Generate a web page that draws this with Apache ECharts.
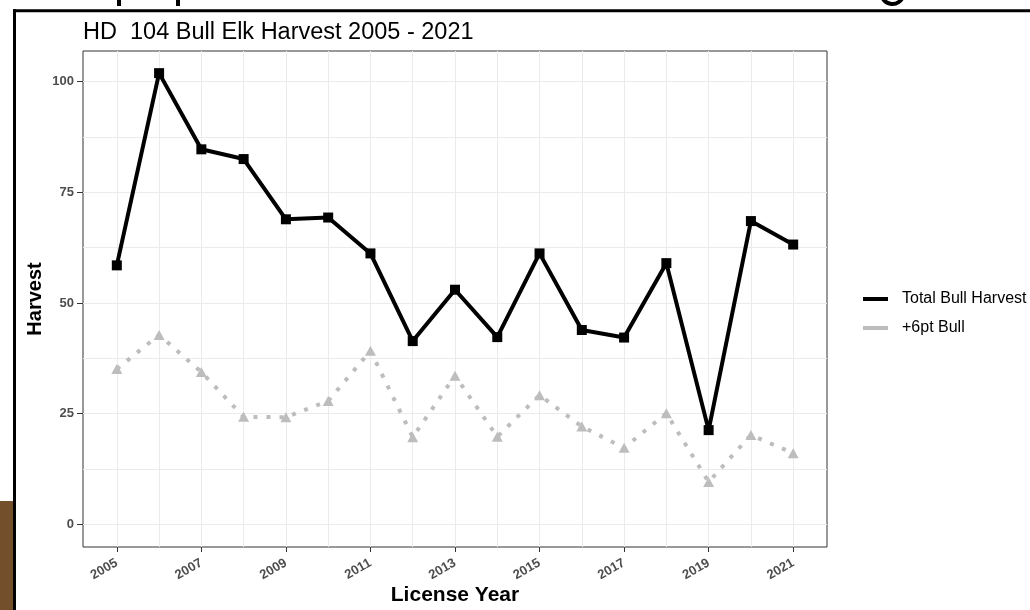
<!DOCTYPE html>
<html>
<head>
<meta charset="utf-8">
<script src="https://cdn.jsdelivr.net/npm/echarts@6/dist/echarts.min.js"></script>
<style>
html,body{margin:0;padding:0;background:#fff;}
#chart{width:1030px;height:610px;}
</style>
</head>
<body>
<div id="chart"></div>
<script>
// ---- data ----
const years = [2005,2006,2007,2008,2009,2010,2011,2012,2013,2014,2015,2016,2017,2018,2019,2020,2021];
const totalBull = [58.5,101.9,84.7,82.5,68.9,69.3,61.2,41.4,53.0,42.3,61.2,43.9,42.2,59.0,21.3,68.5,63.2];
const sixPtBull = [35.1,42.8,34.4,24.3,24.2,27.9,39.2,19.7,33.6,19.8,29.2,22.1,17.3,25.1,9.6,20.2,16.1];
const xTickLabels = [2005,2007,2009,2011,2013,2015,2017,2019,2021];
const yTickLabels = [0,25,50,75,100];
const yGridValues = [0,12.5,25,37.5,50,62.5,75,87.5,100];
const seriesNames = ['Total Bull Harvest', '+6pt Bull'];
const titleText = 'HD  104 Bull Elk Harvest 2005 - 2021';

const xMin = 2004.2, xMax = 2021.8;
const yMin = -5.09, yMax = 106.9;

const chart = echarts.init(document.getElementById('chart'));
const FONT = 'Liberation Sans, Arial, sans-serif';
const tickLabelStyle = {color:'#4d4d4d', fontWeight:'bold', fontSize:13, fontFamily:FONT};

const option = {
  backgroundColor:'#ffffff',
  animation:false,
  title:{
    text:titleText, left:83, top:20.5, padding:0,
    textStyle:{fontFamily:FONT, fontWeight:'normal', fontSize:23.5, color:'#000'}
  },
  legend:{
    orient:'vertical', left:863, top:291, padding:0, itemWidth:25, itemHeight:4, itemGap:13,
    textStyle:{fontFamily:FONT, fontSize:16, color:'#000', padding:[0,0,0,9]},
    data:[
      {name:seriesNames[0], icon:'rect', itemStyle:{color:'#000'}},
      {name:seriesNames[1], icon:'rect', itemStyle:{color:'#bdbdbd'}}
    ]
  },
  grid:{left:83, right:203, top:51, bottom:63, show:true, borderColor:'#333333', borderWidth:1,
    backgroundColor:'#fff', containLabel:false, outerBoundsMode:'none'},
  xAxis:[
    {type:'value', min:xMin, max:xMax, position:'bottom',
      axisLine:{show:false, onZero:false}, axisTick:{show:false, customValues:years},
      axisLabel:{show:false, customValues:years},
      splitLine:{show:true, lineStyle:{color:'#ebebeb', width:1}}},
    {type:'value', min:xMin, max:xMax, position:'bottom',
      name:'License Year', nameLocation:'middle', nameGap:38, nameMoveOverlap:false,
      nameTextStyle:{fontFamily:FONT, fontWeight:'bold', fontSize:21, color:'#000'},
      axisLine:{show:false, onZero:false},
      axisTick:{show:true, length:5, customValues:xTickLabels, lineStyle:{color:'#333333'}},
      axisLabel:Object.assign({customValues:xTickLabels, rotate:30, margin:15, formatter:v=>String(v)}, tickLabelStyle),
      splitLine:{show:false}}
  ],
  yAxis:[
    {type:'value', min:yMin, max:yMax,
      axisLine:{show:false, onZero:false}, axisTick:{show:false, customValues:yGridValues},
      axisLabel:{show:false, customValues:yGridValues},
      splitLine:{show:true, lineStyle:{color:'#ebebeb', width:1}}},
    {type:'value', min:yMin, max:yMax, position:'left',
      name:'Harvest', nameLocation:'middle', nameGap:38, nameMoveOverlap:false,
      nameTextStyle:{fontFamily:FONT, fontWeight:'bold', fontSize:20, color:'#000'},
      axisLine:{show:false, onZero:false},
      axisTick:{show:true, length:6, customValues:yTickLabels, lineStyle:{color:'#333333'}},
      axisLabel:Object.assign({customValues:yTickLabels, margin:9}, tickLabelStyle),
      splitLine:{show:false}}
  ],
  series:[
    {name:seriesNames[1], type:'line', xAxisIndex:0, yAxisIndex:0,
      data:years.map((y,i)=>[y, sixPtBull[i]]),
      symbol:'triangle', symbolSize:[11,10],
      itemStyle:{color:'#bdbdbd'},
      lineStyle:{color:'#bdbdbd', width:4, type:[4,9], cap:'butt'}, z:2},
    {name:seriesNames[0], type:'line', xAxisIndex:0, yAxisIndex:0,
      data:years.map((y,i)=>[y, totalBull[i]]),
      symbol:'rect', symbolSize:10,
      itemStyle:{color:'#000'},
      lineStyle:{color:'#000', width:4}, z:3}
  ],
  graphic:[
    {type:'rect', shape:{x:0, y:501, width:13, height:109}, style:{fill:'#734f2c'}, z:10},
    {type:'line', shape:{x1:13, y1:10.7, x2:1030, y2:10.7}, style:{stroke:'#000', lineWidth:3}, z:10},
    {type:'line', shape:{x1:14.5, y1:9.2, x2:14.5, y2:610}, style:{stroke:'#000', lineWidth:3}, z:10},
    {type:'rect', shape:{x:117, y:0, width:4, height:6}, style:{fill:'#000'}, z:10},
    {type:'rect', shape:{x:176, y:0, width:4, height:6}, style:{fill:'#000'}, z:10},
    {type:'arc', shape:{cx:892.5, cy:-7, r:11, startAngle:0.2, endAngle:Math.PI-0.2}, style:{stroke:'#000', lineWidth:4, fill:null}, z:10}
  ]
};
chart.setOption(option);
</script>
</body>
</html>
